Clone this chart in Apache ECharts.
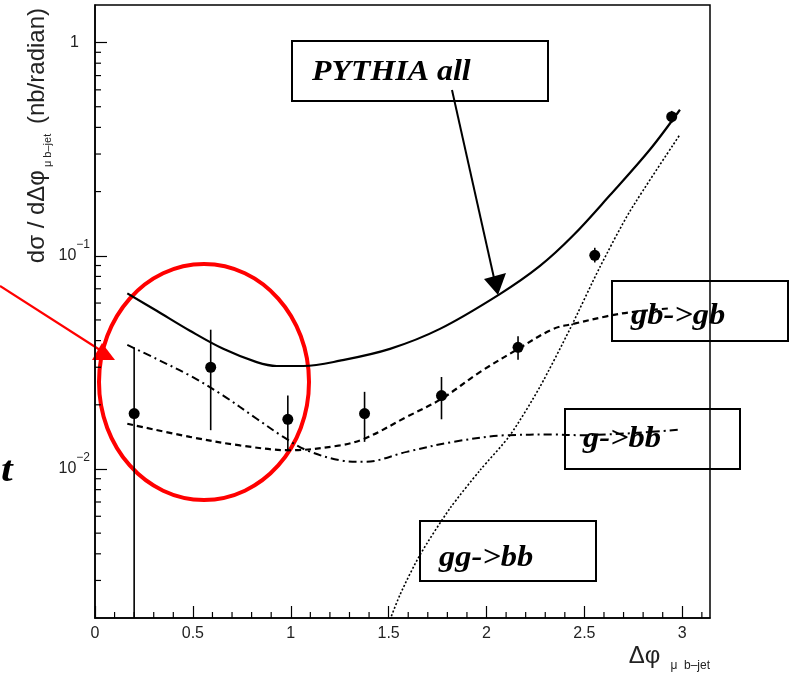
<!DOCTYPE html>
<html>
<head>
<meta charset="utf-8">
<script src="https://cdn.jsdelivr.net/npm/echarts@6/dist/echarts.min.js"></script>
<style>
  html, body { margin: 0; padding: 0; background: #ffffff; }
  #chart { width: 798px; height: 678px; }
</style>
</head>
<body>
<div id="chart"></div>
<script>
// Measured dσ/dΔφ in Δφ bins (bin centres) with error-bar ends
const binX  = [0.200, 0.591, 0.985, 1.377, 1.770, 2.161, 2.553, 2.946];
const dataY = [0.0182, 0.0300, 0.0171, 0.0182, 0.0221, 0.0372, 0.1005, 0.449];
const errHi = [0.0372, 0.0450, 0.0221, 0.0230, 0.0270, 0.0419, 0.109, 0.478];
const errLo = [0.0010, 0.0152, 0.0121, 0.0134, 0.0171, 0.0325, 0.093, 0.420];

// PYTHIA, all processes (solid)
const allX = [0.165, 0.315, 0.485, 0.655, 0.826, 0.928, 1.064, 1.251, 1.507, 1.762, 2.068, 2.273, 2.441, 2.630, 2.835, 2.988];
const allY = [0.0666, 0.0552, 0.0445, 0.0366, 0.0317, 0.0304, 0.0304, 0.0322, 0.0366, 0.0454, 0.0661, 0.0896, 0.124, 0.192, 0.315, 0.484];

// gb -> gb (dashed)
const gbX = [0.165, 0.485, 0.741, 0.996, 1.251, 1.379, 1.592, 1.771, 1.966, 2.162, 2.341, 2.443, 2.613, 2.732, 2.947];
const gbY = [0.0163, 0.01414, 0.0129, 0.01224, 0.0129, 0.0139, 0.01754, 0.02135, 0.02846, 0.0366, 0.0454, 0.0479, 0.052, 0.0543, 0.0568];

// g -> bb (dash-dot)
const gbbX = [0.165, 0.315, 0.485, 0.655, 0.826, 0.962, 1.081, 1.251, 1.379, 1.592, 1.830, 2.103, 2.341, 2.477, 2.988];
const gbbY = [0.0382, 0.0328, 0.0274, 0.0221, 0.0172, 0.01414, 0.01224, 0.01099, 0.0108, 0.01203, 0.0134, 0.0144, 0.0145, 0.0144, 0.0153];

// gg -> bb (dotted)
const ggX = [1.470, 1.558, 1.660, 1.813, 1.966, 2.120, 2.273, 2.426, 2.579, 2.732, 2.988];
const ggY = [0.0016, 0.00257, 0.00395, 0.00653, 0.00984, 0.0144, 0.0243, 0.0453, 0.0884, 0.1614, 0.370];

// axis range and minor tick positions
const xMin = 0, xMax = Math.PI;
const yMin = 0.002, yMax = 1.5;
const xMinorTicks = [0.1,0.2,0.3,0.4,0.6,0.7,0.8,0.9,1.1,1.2,1.3,1.4,1.6,1.7,1.8,1.9,2.1,2.2,2.3,2.4,2.6,2.7,2.8,2.9,3.1];
const yMinorTicks = [0.003,0.004,0.005,0.006,0.007,0.008,0.009,0.02,0.03,0.04,0.05,0.06,0.07,0.08,0.09,0.2,0.3,0.4,0.5,0.6,0.7,0.8,0.9];

const zip = (xs, ys) => xs.map((x, i) => [x, ys[i]]);

const serif = "'Liberation Serif', 'DejaVu Serif', serif";
const sans = "'Liberation Sans', Arial, sans-serif";

const chart = echarts.init(document.getElementById('chart'), null, { renderer: 'canvas' });

function labelSup(v) {
  const e = Math.round(Math.log10(v));
  if (Math.abs(Math.log10(v) - e) > 1e-6) return '';
  if (e === 0) return '{one|1}';
  return '{b|10}{sup|\u2212' + Math.abs(e) + '}';
}

const boxFont = 'italic bold 29px ' + serif;

const option = {
  animation: false,
  backgroundColor: '#ffffff',
  grid: {
    left: 95, right: 88, top: 5, bottom: 60,
    containLabel: false, outerBoundsMode: 'none',
    show: true, borderColor: '#000', borderWidth: 1.5, backgroundColor: 'transparent'
  },
  xAxis: {
    type: 'value', min: xMin, max: xMax, interval: 0.5,
    axisLine: { show: true, onZero: false, lineStyle: { color: '#000', width: 1.5 } },
    axisTick: { show: true, inside: true, length: 12, lineStyle: { color: '#000', width: 1.2 } },
    axisLabel: {
      show: true, margin: 8, color: '#222', fontFamily: sans, fontSize: 16,
      showMaxLabel: false,
      formatter: v => (Math.abs(v * 2 - Math.round(v * 2)) < 1e-6 ? String(+v.toFixed(1)) : '')
    },
    splitLine: { show: false }
  },
  yAxis: {
    type: 'log', logBase: 10, min: yMin, max: yMax,
    axisLine: { show: true, lineStyle: { color: '#000', width: 1.5 } },
    axisTick: { show: true, inside: true, length: 12, lineStyle: { color: '#000', width: 1.2 } },
    axisLabel: {
      show: true, margin: 5, color: '#222', fontFamily: sans,
      showMinLabel: false, showMaxLabel: false,
      formatter: labelSup,
      rich: {
        b: { fontSize: 16, fontFamily: sans, color: '#222', lineHeight: 34 },
        sup: { fontSize: 12, fontFamily: sans, color: '#222', verticalAlign: 'top', lineHeight: 12 },
        one: { fontSize: 16, fontFamily: sans, color: '#222', padding: [0, 11, 0, 0] }
      }
    },
    splitLine: { show: false }
  },
  series: [
    {
      name: 'minor x ticks', type: 'custom', silent: true, clip: false,
      data: xMinorTicks.map(x => [x, yMin]),
      renderItem: (params, api) => {
        const p = api.coord([api.value(0), api.value(1)]);
        return { type: 'line', shape: { x1: p[0], y1: p[1], x2: p[0], y2: p[1] - 6 },
                 style: { stroke: '#000', lineWidth: 1.2 } };
      }
    },
    {
      name: 'minor y ticks', type: 'custom', silent: true, clip: false,
      data: yMinorTicks.map(y => [xMin, y]),
      renderItem: (params, api) => {
        const p = api.coord([api.value(0), api.value(1)]);
        return { type: 'line', shape: { x1: p[0], y1: p[1], x2: p[0] + 6, y2: p[1] },
                 style: { stroke: '#000', lineWidth: 1.2 } };
      }
    },
    {
      name: 'PYTHIA all', type: 'line', data: zip(allX, allY), smooth: 0.35,
      showSymbol: false, clip: true,
      lineStyle: { color: '#000', width: 2.2 }
    },
    {
      name: 'gb->gb', type: 'line', data: zip(gbX, gbY), smooth: 0.35,
      showSymbol: false, clip: true,
      lineStyle: { color: '#000', width: 2.2, type: [6, 4] }
    },
    {
      name: 'g->bb', type: 'line', data: zip(gbbX, gbbY), smooth: 0.35,
      showSymbol: false, clip: true,
      lineStyle: { color: '#000', width: 2, type: [8, 4, 2, 4] }
    },
    {
      name: 'gg->bb', type: 'line', data: zip(ggX, ggY), smooth: 0.25,
      showSymbol: false, clip: true,
      lineStyle: { color: '#000', width: 1.6, type: [2, 2] }
    },
    {
      name: 'errors', type: 'custom', silent: true, clip: true,
      data: binX.map((x, i) => [x, errLo[i], errHi[i]]),
      renderItem: (params, api) => {
        const lo = api.coord([api.value(0), api.value(1)]);
        const hi = api.coord([api.value(0), api.value(2)]);
        return { type: 'line', shape: { x1: lo[0], y1: lo[1], x2: hi[0], y2: hi[1] },
                 style: { stroke: '#000', lineWidth: 1.6 } };
      }
    },
    {
      name: 'data', type: 'scatter', data: zip(binX, dataY),
      symbol: 'circle', symbolSize: 11,
      itemStyle: { color: '#000', opacity: 1 }
    }
  ],
  graphic: [
    // axis titles
    {
      type: 'text', x: 37, y: 8, rotation: Math.PI / 2,
      style: {
        text: '{m|d\u03c3 / d\u0394\u03c6}{s| \u03bc b\u2013jet }{m| (nb/radian)}',
        textAlign: 'right', textVerticalAlign: 'middle',
        rich: {
          m: { fontFamily: sans, fontSize: 24, fill: '#222', lineHeight: 32 },
          s: { fontFamily: sans, fontSize: 11, fill: '#222', verticalAlign: 'bottom', lineHeight: 12 }
        }
      }
    },
    {
      type: 'text', x: 710, y: 656,
      style: {
        text: '{m|\u0394\u03c6}{s|   \u03bc  b\u2013jet}',
        textAlign: 'right', textVerticalAlign: 'middle',
        rich: {
          m: { fontFamily: sans, fontSize: 24, fill: '#222', lineHeight: 32 },
          s: { fontFamily: sans, fontSize: 12, fill: '#222', verticalAlign: 'bottom', lineHeight: 12 }
        }
      }
    },
    // process labels
    { type: 'rect', shape: { x: 292, y: 41, width: 256, height: 60 }, style: { fill: 'none', stroke: '#000', lineWidth: 2 } },
    { type: 'text', x: 312, y: 73, scaleX: 1.1, style: { text: 'PYTHIA all', font: boxFont, fill: '#000', textVerticalAlign: 'middle' } },
    { type: 'line', shape: { x1: 452, y1: 90, x2: 494, y2: 278 }, style: { stroke: '#000', lineWidth: 2 } },
    { type: 'polygon', shape: { points: [[484, 279], [506, 273], [498, 295]] }, style: { fill: '#000' } },

    { type: 'rect', shape: { x: 612, y: 281, width: 176, height: 60 }, style: { fill: 'none', stroke: '#000', lineWidth: 2 } },
    { type: 'text', x: 631, y: 317, scaleX: 1.12, style: { text: 'gb->gb', font: boxFont, fill: '#000', textVerticalAlign: 'middle' } },

    { type: 'rect', shape: { x: 565, y: 409, width: 175, height: 60 }, style: { fill: 'none', stroke: '#000', lineWidth: 2 } },
    { type: 'text', x: 583, y: 440, scaleX: 1.12, style: { text: 'g->bb', font: boxFont, fill: '#000', textVerticalAlign: 'middle' } },

    { type: 'rect', shape: { x: 420, y: 521, width: 176, height: 60 }, style: { fill: 'none', stroke: '#000', lineWidth: 2 } },
    { type: 'text', x: 439, y: 559, scaleX: 1.12, style: { text: 'gg->bb', font: boxFont, fill: '#000', textVerticalAlign: 'middle' } },

    { type: 'text', x: 1, y: 472, scaleX: 1.2, style: { text: 't', font: 'italic bold 35px ' + serif, fill: '#000', textVerticalAlign: 'middle' } },

    // highlighted low-Δφ region
    { type: 'ellipse', shape: { cx: 204, cy: 382, rx: 105, ry: 118 }, style: { fill: 'none', stroke: '#ff0000', lineWidth: 4 } },
    { type: 'line', shape: { x1: 0, y1: 286, x2: 100, y2: 350 }, style: { stroke: '#ff0000', lineWidth: 2.2 } },
    { type: 'polygon', shape: { points: [[92, 360], [115, 360], [102, 343]] }, style: { fill: '#ff0000' } }
  ]
};

chart.setOption(option);
</script>
</body>
</html>
